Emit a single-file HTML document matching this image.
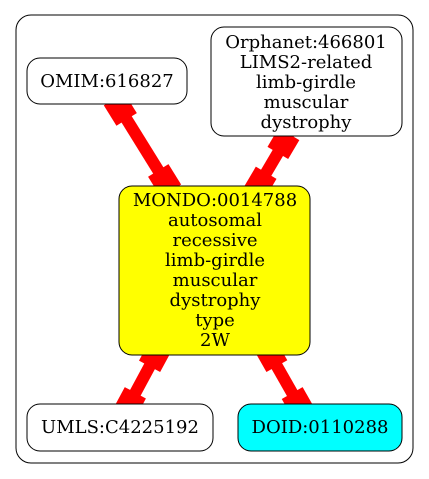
<!DOCTYPE html>
<html><head><style>
html,body{margin:0;padding:0;background:#fff;width:429px;height:479px;overflow:hidden}
svg text{font-family:"DejaVu Serif","Liberation Serif",serif;font-size:18px;text-anchor:middle}
</style></head><body>
<svg width="429" height="479" viewBox="0 0 429 479" xmlns="http://www.w3.org/2000/svg">
<rect x="16" y="15" width="397" height="448" rx="15" fill="#fff" stroke="#000" stroke-width="1"/>
<g fill="#f00">
<g transform="translate(114,99) rotate(58.2)"><rect x="0" y="-6" width="108" height="12"/><rect x="0" y="-12" width="24" height="24"/><rect x="84" y="-12" width="24" height="24"/></g>
<g transform="translate(289,134) rotate(120.5)"><rect x="0" y="-6" width="67" height="12"/><rect x="0" y="-12" width="22" height="24"/><rect x="45" y="-12" width="22" height="24"/></g>
<g transform="translate(160,347) rotate(118.3)"><rect x="0" y="-6" width="74" height="12"/><rect x="0" y="-12" width="22" height="24"/><rect x="52" y="-12" width="22" height="24"/></g>
<g transform="translate(266,347) rotate(60.4)"><rect x="0" y="-6" width="75" height="12"/><rect x="0" y="-12" width="22" height="24"/><rect x="53" y="-12" width="22" height="24"/></g>
</g>
<rect x="27" y="58" width="160" height="46" rx="13" fill="#fff" stroke="#000"/>
<text x="107" y="87">OMIM:616827</text>
<rect x="211" y="27" width="191" height="109" rx="13" fill="#fff" stroke="#000"/>
<text x="306" y="48">Orphanet:466801</text>
<text x="306" y="68">LIMS2-related</text>
<text x="306" y="88">limb-girdle</text>
<text x="306" y="108">muscular</text>
<text x="306" y="128">dystrophy</text>
<rect x="119" y="186" width="191" height="169" rx="13" fill="#ff0" stroke="#000"/>
<text x="215" y="206">MONDO:0014788</text>
<text x="215" y="226">autosomal</text>
<text x="215" y="246">recessive</text>
<text x="215" y="266">limb-girdle</text>
<text x="215" y="286">muscular</text>
<text x="215" y="306">dystrophy</text>
<text x="215" y="326">type</text>
<text x="215" y="346">2W</text>
<rect x="27" y="404" width="186" height="47" rx="13" fill="#fff" stroke="#000"/>
<text x="120" y="433">UMLS:C4225192</text>
<rect x="238" y="404" width="164" height="47" rx="13" fill="#0ff" stroke="#000"/>
<text x="320" y="433">DOID:0110288</text>
</svg>
</body></html>
